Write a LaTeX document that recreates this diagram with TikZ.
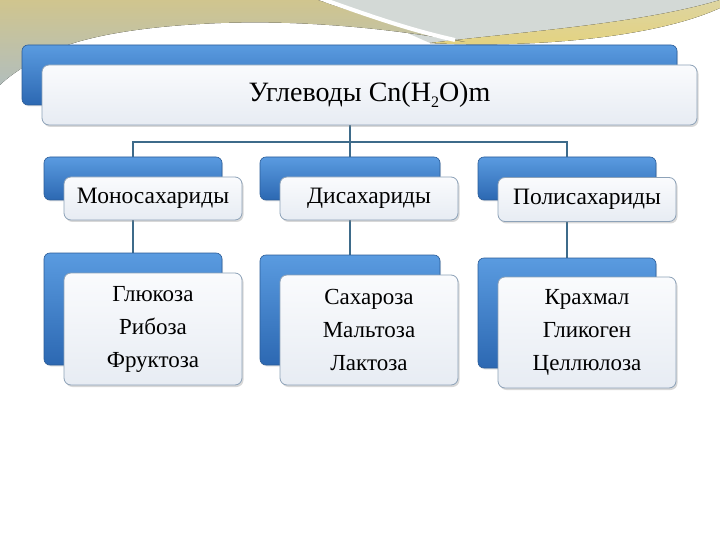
\documentclass[tikz,border=0pt]{standalone}
\usepackage{fontspec}
\setmainfont{Liberation Serif}
\usetikzlibrary{shadows}
\pgfdeclarelayer{deco}
\pgfdeclarelayer{background}
\pgfsetlayers{deco,background,main}
\definecolor{khaki}{HTML}{D0C58E}
\definecolor{grayteal}{HTML}{B2BEBC}
\definecolor{graytop}{HTML}{D3D9D6}
\definecolor{yellowband}{HTML}{E4D27E}
\definecolor{bluetop}{HTML}{5A9BE0}
\definecolor{bluebot}{HTML}{2C68B2}
\definecolor{blueedge}{HTML}{2A5C98}
\definecolor{wtop}{HTML}{FAFBFD}
\definecolor{wbot}{HTML}{E7ECF3}
\definecolor{wedge}{HTML}{8DA2B8}
\definecolor{conncol}{HTML}{3E6B8A}
\tikzset{
  bluebox/.style={rounded corners=6pt, top color=bluetop, bottom color=bluebot, draw=blueedge, line width=0.6pt,
    drop shadow={opacity=0.2, shadow xshift=1pt, shadow yshift=-1.5pt}},
  whitebox/.style={rounded corners=7pt, top color=wtop, bottom color=wbot, draw=wedge, line width=0.8pt,
    drop shadow={opacity=0.3, shadow xshift=1.5pt, shadow yshift=-2pt}, align=center},
  conn/.style={draw=conncol, line width=2pt},
  subfont/.style={font=\fontsize{23.5}{26}\selectfont},
  listfont/.style={font=\fontsize{23}{33}\selectfont},
}
\begin{document}
\begin{tikzpicture}[x=1pt,y=-1pt]
\useasboundingbox (0,0) rectangle (720,540);
\begin{pgfonlayer}{deco}
\fill[white] (0,0) rectangle (720,540);
% right gray region
\fill[graytop] (330,0) -- (720,0) -- (720,8)
  .. controls (650,40) and (520,48) .. (430,43)
  .. controls (400,30) and (370,15) .. (330,0) -- cycle;
% yellow band
\fill[top color=graytop!40!yellowband, bottom color=yellowband] (430,43)
  .. controls (520,32) and (640,24) .. (720,0) -- (720,8)
  .. controls (650,40) and (520,48) .. (430,43) -- cycle;
% left khaki swoosh
\fill[top color=khaki, bottom color=grayteal] (0,0) -- (318,0)
  .. controls (370,18) and (420,32) .. (465,42)
  .. controls (400,30) and (300,18) .. (200,24)
  .. controls (130,28) and (80,38) .. (50,52)
  .. controls (30,62) and (10,75) .. (0,85) -- cycle;
% white streak
\draw[white, line width=4pt] (325,0) .. controls (370,16) and (410,30) .. (455,40);
\end{pgfonlayer}

% title
\node[bluebox, minimum width=655pt, minimum height=60pt] (tb) at (349.5,75) {};
\node[whitebox, minimum width=655pt, minimum height=60pt, font=\fontsize{28}{32}\selectfont] (tw) at (369.5,95)
  {Углеводы Cn(H\raisebox{-0.22em}{\fontsize{16}{16}\selectfont 2}O)m};

% level 2
\node[bluebox, minimum width=178pt, minimum height=43pt] (b1) at (133,178.5) {};
\node[whitebox, subfont, minimum width=178pt, minimum height=43pt] (w1) at (153,198.5) {Моносахариды};
\node[bluebox, minimum width=180pt, minimum height=43pt] (b2) at (350,178.5) {};
\node[whitebox, subfont, minimum width=178pt, minimum height=43pt] (w2) at (369,198.5) {Дисахариды};
\node[bluebox, minimum width=178pt, minimum height=43pt] (b3) at (567,178.5) {};
\node[whitebox, subfont, minimum width=178pt, minimum height=44pt] (w3) at (587,199.5) {Полисахариды};

% level 3
\node[bluebox, minimum width=178pt, minimum height=112pt] (c1) at (133,309) {};
\node[whitebox, listfont, minimum width=178pt, minimum height=112pt] (d1) at (153,329)
  {Глюкоза\\Рибоза\\Фруктоза};
\node[bluebox, minimum width=180pt, minimum height=110pt] (c2) at (350,310) {};
\node[whitebox, listfont, minimum width=178pt, minimum height=110pt] (d2) at (369,330)
  {Сахароза\\Мальтоза\\Лактоза};
\node[bluebox, minimum width=178pt, minimum height=110pt] (c3) at (567,313) {};
\node[whitebox, listfont, minimum width=178pt, minimum height=111pt] (d3) at (587,332.5)
  {Крахмал\\Гликоген\\Целлюлоза};

\coordinate (bus) at (0,142);
\begin{pgfonlayer}{background}
\draw[conn] (tb.center) -- (tb.center |- bus);
\draw[conn] (b1.center) |- (b3.center |- bus) -- (b3.center);
\draw[conn] (b2.center) -- (b2.center |- bus);
\draw[conn] (b1.center) -- (c1.center);
\draw[conn] (b2.center) -- (c2.center);
\draw[conn] (b3.center) -- (c3.center);
\end{pgfonlayer}
\end{tikzpicture}
\end{document}
